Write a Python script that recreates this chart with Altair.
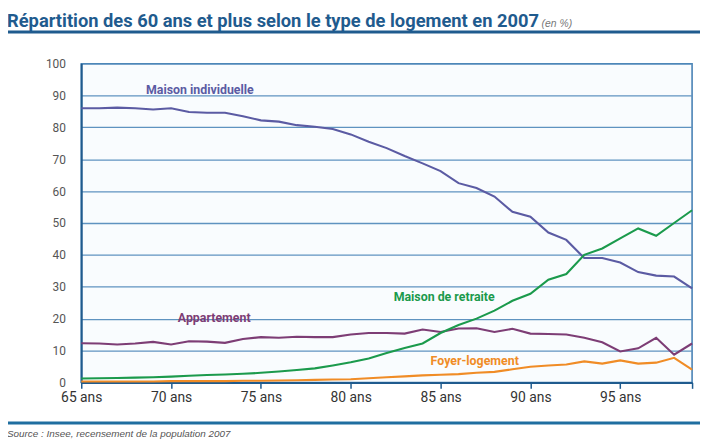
import altair as alt
import pandas as pd

ages = list(range(65, 100))

maison_individuelle = [86.0, 86.0, 86.2, 86.0, 85.6, 86.0, 84.8, 84.6, 84.6, 83.5,
                       82.2, 81.8, 80.7, 80.2, 79.5, 77.8, 75.5, 73.5, 71.0, 68.7,
                       66.3, 62.5, 61.0, 58.3, 53.5, 52.0, 47.0, 44.7, 39.0, 39.0,
                       37.6, 34.6, 33.5, 33.2, 29.5]
appartement = [12.3, 12.2, 11.9, 12.2, 12.7, 11.9, 12.9, 12.8, 12.4, 13.6,
               14.2, 14.0, 14.3, 14.2, 14.2, 15.0, 15.5, 15.5, 15.3, 16.6,
               15.8, 16.9, 17.0, 15.8, 16.8, 15.3, 15.2, 15.0, 14.0, 12.6,
               9.7, 10.7, 14.0, 8.7, 12.2]
maison_retraite = [1.2, 1.3, 1.4, 1.5, 1.6, 1.8, 2.1, 2.3, 2.5, 2.7,
                   3.0, 3.4, 3.9, 4.4, 5.3, 6.3, 7.5, 9.2, 10.8, 12.2,
                   15.5, 18.0, 20.0, 22.5, 25.6, 27.8, 32.2, 34.0, 40.0, 42.0,
                   45.2, 48.3, 46.0, 50.0, 54.0]
foyer_logement = [0.3, 0.3, 0.3, 0.3, 0.3, 0.4, 0.4, 0.4, 0.4, 0.5,
                  0.5, 0.6, 0.7, 0.8, 0.9, 1.0, 1.3, 1.6, 1.9, 2.2,
                  2.4, 2.6, 3.0, 3.3, 4.1, 4.9, 5.3, 5.6, 6.6, 5.9,
                  6.9, 5.9, 6.2, 7.7, 4.0]

series_names = ["Maison individuelle", "Appartement", "Maison de retraite", "Foyer-logement"]
series_colors = ["#5b5ba3", "#7d3d75", "#1b9a4c", "#f08c26"]
label_x = [71.6, 72.4, 85.2, 86.9]
label_y = [91.6, 20.2, 26.7, 6.8]

x_tick_values = [65, 70, 75, 80, 85, 90, 95, 99]
y_tick_values = [0, 10, 20, 30, 40, 50, 60, 70, 80, 90, 100]

title_text = "Répartition des 60 ans et plus selon le type de logement en 2007"
title_unit = "(en %)"
source_text = "Source : Insee, recensement de la population 2007"

rows = []
for name, vals in zip(series_names, [maison_individuelle, appartement, maison_retraite, foyer_logement]):
    for a, v in zip(ages, vals):
        rows.append({"age": a, "valeur": v, "type": name})
df = pd.DataFrame(rows)
labels_df = pd.DataFrame({"type": series_names, "x": label_x, "y": label_y})

FONT = "Liberation Sans Narrow, Arial Narrow, Roboto, Liberation Sans, sans-serif"

xscale = alt.Scale(domain=[65, 99], nice=False, zero=False)
yscale = alt.Scale(domain=[0, 100], nice=False)
cscale = alt.Scale(domain=series_names, range=series_colors)

xaxis = alt.Axis(values=x_tick_values,
                 labelExpr="datum.value == 99 ? '' : datum.value + ' ans'",
                 grid=False, domainColor="#1f5b8e", domainWidth=2,
                 tickColor="#1f5b8e", tickSize=6, tickWidth=1.5,
                 labelFont=FONT, labelFontSize=14, labelColor="#333333",
                 labelPadding=2, labelFlush=False, labelOverlap=False)
yaxis = alt.Axis(values=y_tick_values, grid=True,
                 gridColor="#5f93c0", gridWidth=1.3,
                 domainColor="#1f5b8e", domainWidth=2, ticks=False,
                 labelFont=FONT, labelFontSize=12, labelColor="#555555",
                 labelPadding=16, labelOverlap=False, labelFlush=False)

lines = alt.Chart(df).mark_line(strokeWidth=2.1).encode(
    x=alt.X("age:Q", scale=xscale, title=None, axis=xaxis),
    y=alt.Y("valeur:Q", scale=yscale, title=None, axis=yaxis),
    color=alt.Color("type:N", scale=cscale, legend=None),
    detail="type:N",
)

labels = alt.Chart(labels_df).mark_text(font=FONT, fontSize=12.5, fontWeight="bold").encode(
    x=alt.X("x:Q", scale=xscale, title=None, axis=xaxis),
    y=alt.Y("y:Q", scale=yscale, title=None, axis=yaxis),
    text="type:N",
    color=alt.Color("type:N", scale=cscale, legend=None),
)

dummy = pd.DataFrame({"k": [0]})
title = alt.Chart(dummy).mark_text(font=FONT, fontSize=18.5, fontWeight="bold",
                                   color="#1f5b8e", align="left", baseline="alphabetic").encode(
    x=alt.value(-75), y=alt.value(-37), text=alt.value(title_text))
unit = alt.Chart(dummy).mark_text(font="Liberation Sans, sans-serif", fontSize=10.5, fontStyle="italic",
                                  color="#777777", align="left", baseline="alphabetic").encode(
    x=alt.value(465), y=alt.value(-37), text=alt.value(title_unit))
underline = alt.Chart(dummy).mark_rule(color="#1f5b8e", strokeWidth=3).encode(
    x=alt.value(-75), x2=alt.value(626), y=alt.value(-32))
bottomline = alt.Chart(dummy).mark_rule(color="#1f6ea0", strokeWidth=3).encode(
    x=alt.value(-75), x2=alt.value(626), y=alt.value(363))
source = alt.Chart(dummy).mark_text(font="Liberation Sans, sans-serif", fontSize=10, fontStyle="italic",
                                    color="#555555", align="left", baseline="middle").encode(
    x=alt.value(-75), y=alt.value(374), text=alt.value(source_text))

chart = alt.layer(lines, labels, title, unit, underline, bottomline, source).properties(
    width=617, height=322,
    autosize=alt.AutoSizeParams(type="none"),
    padding={"left": 74, "top": 54, "right": 8, "bottom": 56},
    background="white",
).configure_view(
    stroke="#3d7ab0", strokeWidth=1.5, fill="#f9fcfe"
)

chart.save("out.html", embed_options={"renderer": "svg", "actions": False})
